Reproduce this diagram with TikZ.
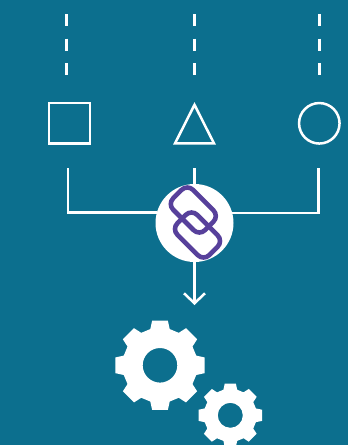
\documentclass[tikz,border=0pt]{standalone}
\usepackage{xcolor}
\usetikzlibrary{shapes.geometric}
\usetikzlibrary{arrows.meta}
\definecolor{tealbg}{HTML}{0C6F8E}
\definecolor{linkpurple}{HTML}{57409B}
\tikzstyle{outline} = [draw=white, line width=2.5pt, inner sep=0pt, outer sep=0pt]
\tikzstyle{link} = [draw=linkpurple, line width=4.6pt, rounded corners=8pt, minimum width=45pt, minimum height=28pt, rotate=-45]
\tikzstyle{wire} = [draw=white, line width=2.5pt]
\tikzstyle{arrow} = [wire, -{Straight Barb[length=10pt,width=21pt,line width=2.5pt]}]
\tikzstyle{dashwire} = [wire, dash pattern=on 12pt off 12.5pt]
\tikzstyle{gearfill} = [fill=white, even odd rule]
% center, root radius, tip radius, hole radius
\newcommand{\gearwheel}[4]{
    \fill [gearfill, shift={(#1)}] (0,0) circle (#4)
    (-15:#2) \foreach \a in {0,45,...,315} {
        -- ({\a-15}:#2) -- ({\a-10}:#3) -- ({\a+10}:#3) -- ({\a+15}:#2)
    } -- cycle;
}

\begin{document}
\begin{tikzpicture}[x=1pt, y=-1pt]
    \fill [tealbg] (0,0) rectangle (348,445);
    \useasboundingbox (0,0) rectangle (348,445);

    \node (square) [outline, rectangle, minimum width=41pt, minimum height=40.5pt] at (69.5,123.3) {};
    \node (triangle) [outline, isosceles triangle, isosceles triangle apex angle=54, isosceles triangle stretches, shape border rotate=90, minimum width=39pt, minimum height=38.6pt, anchor=apex] at (194.5,104.8) {};
    \node (round) [outline, circle, minimum size=40.5pt] at (319.3,123.3) {};

    \node (hub) [circle, fill=white, minimum size=78pt, inner sep=0pt, outer sep=0pt] at (194.5,223) {};
    \node (linkup) [link] at (193.3,210) {};
    \node (linkdown) [link] at (197.5,235) {};

    \foreach \n/\x in {a/66.7,b/194.5,c/319.3} {
        \coordinate (top\n) at (\x,14);
        \coordinate (end\n) at (\x,75);
        \draw [dashwire] (top\n) -- (end\n);
    }

    \coordinate (leftup) at (68,168);
    \coordinate (midup) at (194.5,168);
    \coordinate (rightup) at (318.5,168);
    \coordinate (arrowend) at (194.5,305);
    \draw [wire] (leftup) |- (hub.164.5);
    \draw [wire] (rightup) |- (hub.15.5);
    \draw [wire] (midup) -- (hub.north);
    \draw [arrow] (hub.south) -- (arrowend);

    \gearwheel{160,365.3}{37.5}{45.3}{17.3}
    \gearwheel{230.3,415.3}{26.5}{32.2}{12.5}
\end{tikzpicture}
\end{document}
